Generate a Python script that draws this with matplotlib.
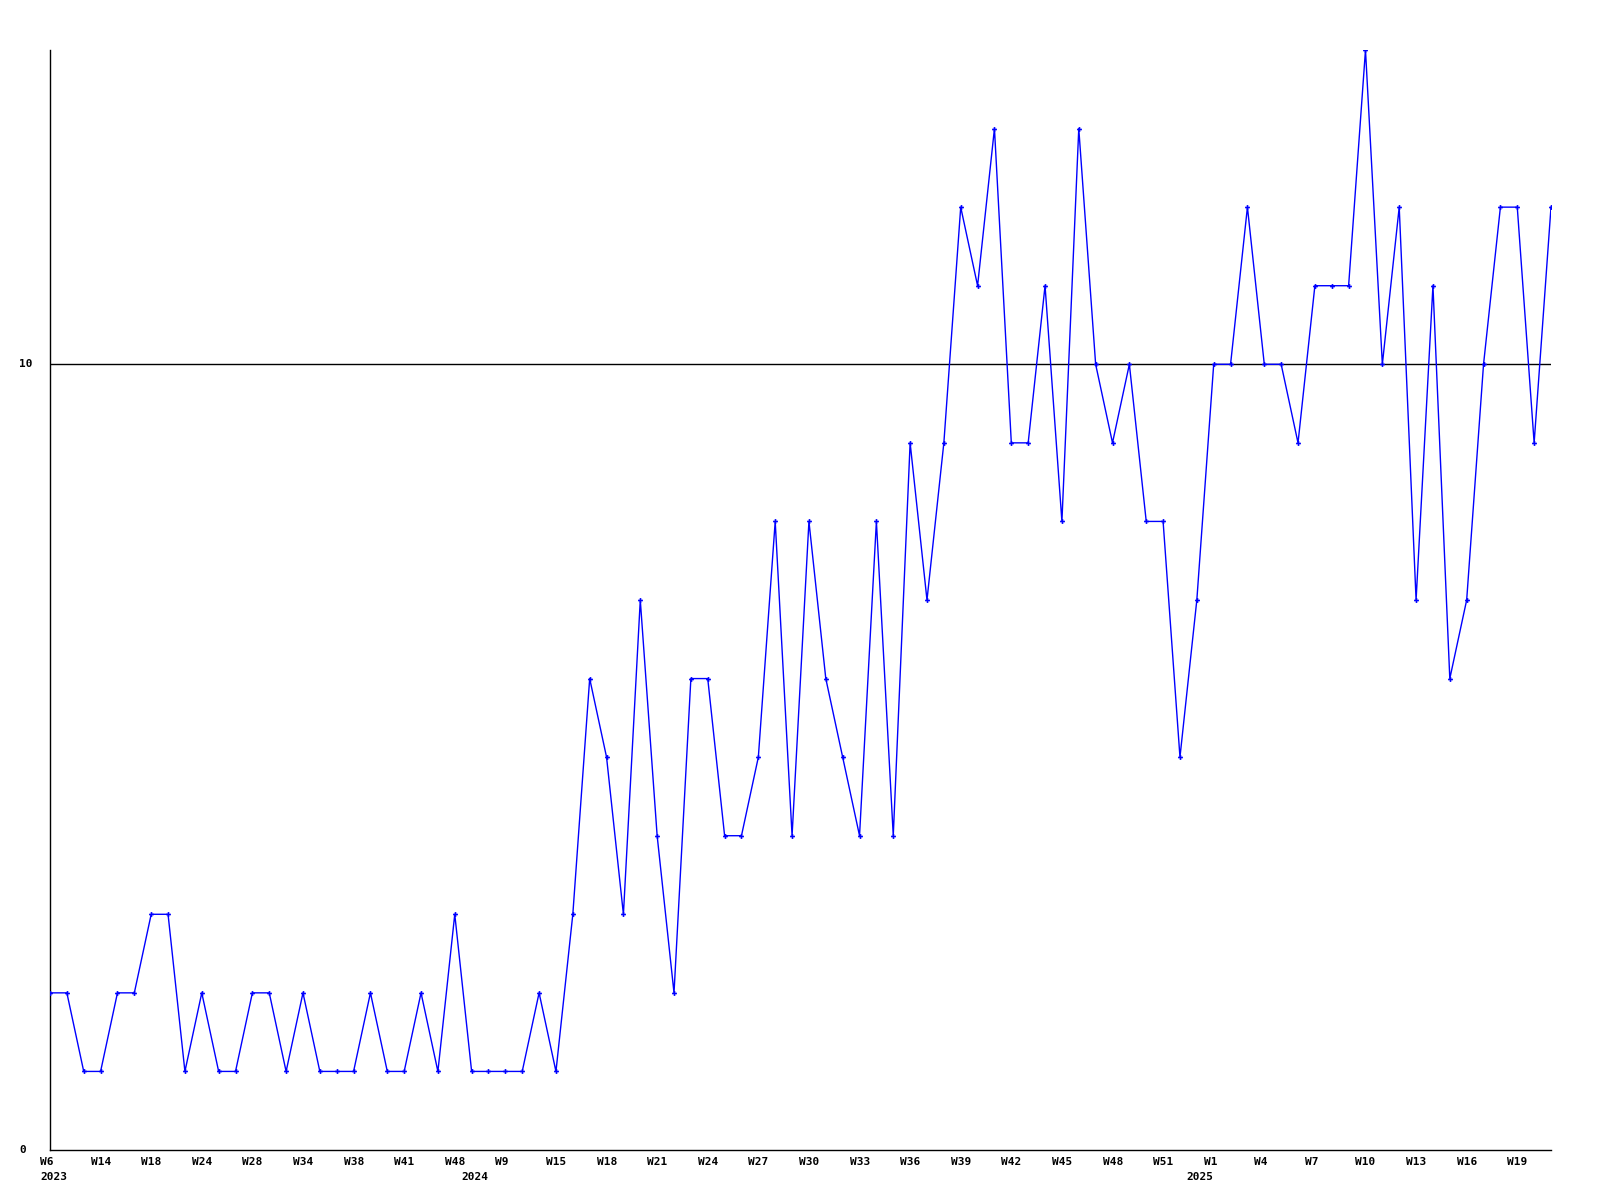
import matplotlib
matplotlib.use("Agg")
import matplotlib.pyplot as plt
from matplotlib.transforms import blended_transform_factory, ScaledTranslation

values = [2, 2, 1, 1, 2, 2, 3, 3, 1, 2,
          1, 1, 2, 2, 1, 2, 1, 1, 1, 2,
          1, 1, 2, 1, 3, 1, 1, 1, 1, 2,
          1, 3, 6, 5, 3, 7, 4, 2, 6, 6,
          4, 4, 5, 8, 4, 8, 6, 5, 4, 8,
          4, 9, 7, 9, 12, 11, 13, 9, 9, 11,
          8, 13, 10, 9, 10, 8, 8, 5, 7, 10,
          10, 12, 10, 10, 9, 11, 11, 11, 14, 10,
          12, 7, 11, 6, 7, 10, 12, 12, 9, 12]

tick_labels = ["W6", "W14", "W18", "W24", "W28", "W34", "W38", "W41", "W48", "W9",
               "W15", "W18", "W21", "W24", "W27", "W30", "W33", "W36", "W39", "W42",
               "W45", "W48", "W51", "W1", "W4", "W7", "W10", "W13", "W16", "W19"]
tick_step = 3
year_labels = ["2023", "2024", "2025"]
year_positions = [0, 25, 68]
y_ticks = [0, 10]

FONT = dict(family="DejaVu Sans Mono", fontweight="bold", fontsize=8, color="black")

fig = plt.figure(figsize=(16, 12), dpi=100)
ax = fig.add_axes([50/1600, 50/1200, (1551-50)/1600, 1100/1200])

x = list(range(len(values)))
ax.plot(x, values, color="#0000ff", lw=1.0, marker="P", ms=3.5, mew=0, zorder=3)
ax.axhline(10, color="black", lw=1.0, zorder=2)

ax.set_xlim(0, len(values) - 1)
ax.set_ylim(0, 14)
for s in ["top", "right"]:
    ax.spines[s].set_visible(False)
for s in ["left", "bottom"]:
    ax.spines[s].set_linewidth(1.0)
    ax.spines[s].set_color("black")
ax.set_xticks([])
ax.set_yticks([])

tr_x = blended_transform_factory(ax.transData, ax.transAxes)
off_tick = ScaledTranslation(-10/100, -12/100, fig.dpi_scale_trans)
off_year = ScaledTranslation(-10/100, -27/100, fig.dpi_scale_trans)
for i, lbl in enumerate(tick_labels):
    ax.text(i * tick_step, 0, lbl, transform=tr_x + off_tick, ha="left", va="center", **FONT)
for pos, lbl in zip(year_positions, year_labels):
    ax.text(pos, 0, lbl, transform=tr_x + off_year, ha="left", va="center", **FONT)

tr_y = blended_transform_factory(fig.transFigure, ax.transData)
for v in y_ticks:
    ax.text(19/1600, v, str(v), transform=tr_y, ha="left", va="center", **FONT)

fig.savefig("out.png", dpi=100, facecolor="white")
